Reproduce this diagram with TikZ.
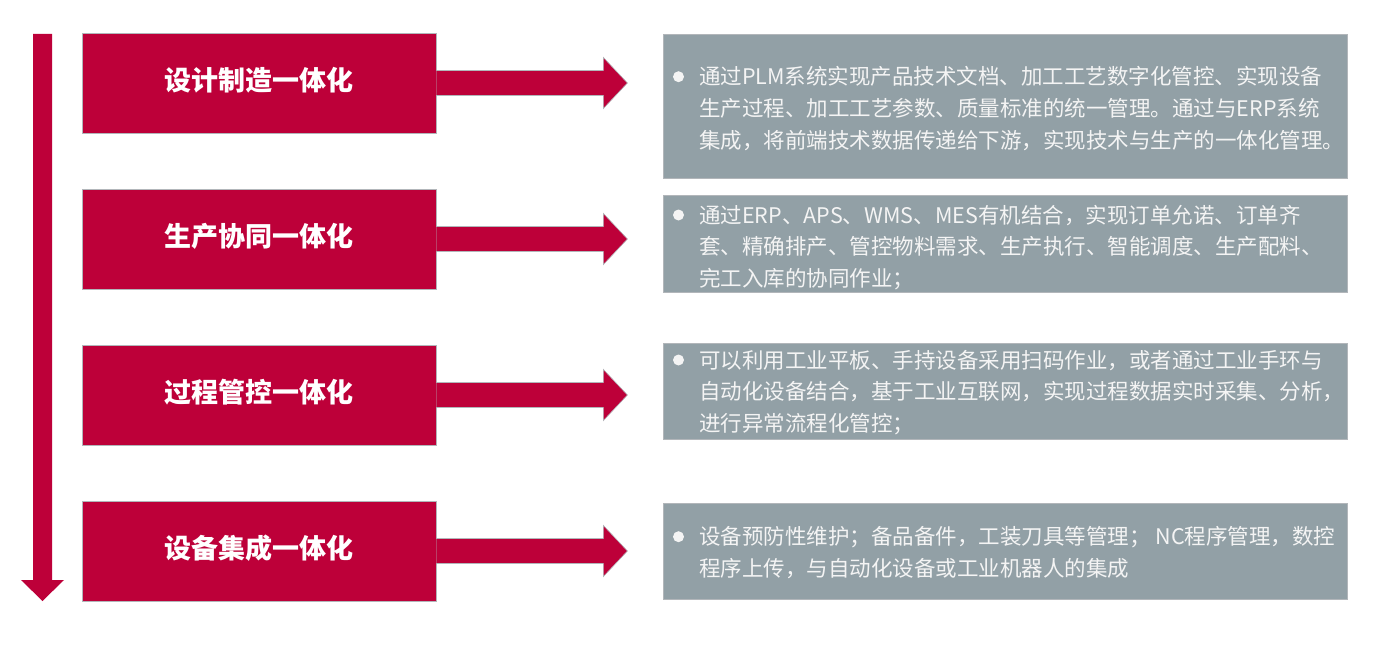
\documentclass[tikz,border=0pt]{standalone}
\usepackage{fontspec}
\newfontfamily\cjk{Noto Sans CJK SC}
\definecolor{myred}{RGB}{189,0,57}
\definecolor{mygray}{RGB}{146,160,166}
\definecolor{edgegray}{RGB}{178,182,186}
\definecolor{txtc}{RGB}{244,244,244}
\tikzset{
  redbox/.style={rectangle, fill=myred, draw=edgegray, line width=0.8pt,
    minimum width=354pt, minimum height=100pt, inner sep=0pt,
    font={\cjk\bfseries\fontsize{27}{30}\selectfont}, text=white,
    text height=23.76pt, text depth=8.24pt},
  graybox/.style={fill=mygray, draw=edgegray, line width=0.6pt},
  desc/.style={anchor=base west, inner sep=0pt, align=left, text=txtc,
    font={\cjk\fontsize{21.5}{31.7}\selectfont}},
  bullet/.style={circle, fill=txtc, inner sep=0pt, minimum size=11pt},
  redarrow/.style={fill=myred, draw=edgegray, line width=0.6pt}
}
\begin{document}
\begin{tikzpicture}[x=1pt,y=-1pt]
\useasboundingbox (0,0) rectangle (1380,666);
\fill[white] (0,0) rectangle (1380,666);

% left downward arrow
\fill[myred] (33,34) -- (52,34) -- (52,580) -- (64,580) -- (42.5,601) -- (21,580) -- (33,580) -- cycle;

% gray description boxes
\node[graybox, anchor=north west, minimum width=684pt, minimum height=144pt, inner sep=0pt] (g1) at (663,34) {};
\node[graybox, anchor=north west, minimum width=684pt, minimum height=97pt, inner sep=0pt] (g2) at (663,195) {};
\node[graybox, anchor=north west, minimum width=684pt, minimum height=96pt, inner sep=0pt] (g3) at (663,343) {};
\node[graybox, anchor=north west, minimum width=684pt, minimum height=96pt, inner sep=0pt] (g4) at (663,503) {};

% red title boxes
\node[redbox] (t1) at (259,83) {设计制造一体化};
\node[redbox] (t2) at (259,239) {生产协同一体化};
\node[redbox] (t3) at (259,395) {过程管控一体化};
\node[redbox] (t4) at (259,551) {设备集成一体化};

% arrows from title boxes
\foreach \n in {t1,t2,t3,t4}{
  \filldraw[redarrow] (\n.east) ++(0,-12.5) -- ++(167,0) -- ++(0,-13) -- ++(24,25.5)
    -- ++(-24,25.5) -- ++(0,-13) -- ++(-167,0);
}

% bullets
\node[bullet] (b1) at (678.5,76.7) {};
\node[bullet] (b2) at (678.5,215) {};
\node[bullet] (b3) at (678.5,360) {};
\node[bullet] (b4) at (678.5,536.7) {};

% descriptions (anchored at the baseline of their last line)
\node[desc] (d1) at (699,148.1) {通过PLM系统实现产品技术文档、加工工艺数字化管控、实现设备\\生产过程、加工工艺参数、质量标准的统一管理。通过与ERP系统\\集成，将前端技术数据传递给下游，实现技术与生产的一体化管理。};
\node[desc] (d2) at (699,286.4) {通过ERP、APS、WMS、MES有机结合，实现订单允诺、订单齐\\套、精确排产、管控物料需求、生产执行、智能调度、生产配料、\\完工入库的协同作业；};
\node[desc] (d3) at (699,431.4) {可以利用工业平板、手持设备采用扫码作业，或者通过工业手环与\\自动化设备结合，基于工业互联网，实现过程数据实时采集、分析，\\进行异常流程化管控；};
\node[desc] (d4) at (699,576.4) {设备预防性维护；备品备件，工装刀具等管理； NC程序管理，数控\\程序上传，与自动化设备或工业机器人的集成};
\end{tikzpicture}
\end{document}
